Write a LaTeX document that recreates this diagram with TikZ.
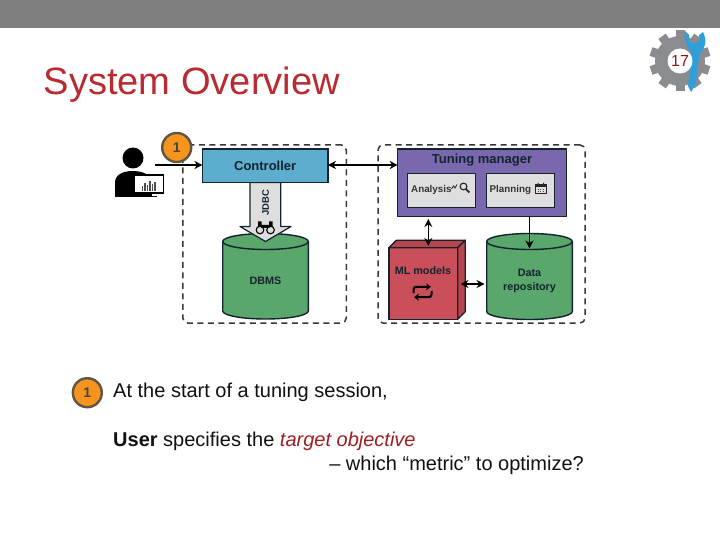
\documentclass[tikz,border=0pt]{standalone}
\usepackage{fontspec}
\setmainfont{Liberation Sans}
\usetikzlibrary{arrows.meta,calc}
\definecolor{barc}{HTML}{7F7F7F}
\definecolor{titlec}{HTML}{B92B30}
\definecolor{ctrlc}{HTML}{5DAECE}
\definecolor{greenc}{HTML}{5AA76C}
\definecolor{purplec}{HTML}{7A68AE}
\definecolor{redc}{HTML}{C9505A}
\definecolor{redtop}{HTML}{B8444E}
\definecolor{orangec}{HTML}{F7941D}
\definecolor{ringc}{HTML}{5F5545}
\definecolor{inkc}{HTML}{14232E}
\definecolor{graybox}{HTML}{DEDEDE}
\definecolor{gearc}{HTML}{8A8C8F}
\definecolor{wrenchc}{HTML}{2E9FD8}
\definecolor{numc}{HTML}{8B1A1A}
\definecolor{objc}{HTML}{A01E22}
\definecolor{bodyc}{HTML}{111111}
\tikzset{
  box/.style={draw=inkc,line width=1.4pt,inner sep=0pt,outer sep=0pt,align=center,text=inkc,font=\bfseries},
  dashbox/.style={draw=black!78,line width=1.5pt,dash pattern=on 6pt off 4.5pt,rounded corners=5pt,inner sep=0pt,outer sep=0pt},
  conn/.style={line width=1.4pt,draw=black,-{Stealth[length=8pt,width=8pt]}},
  dconn/.style={line width=1.4pt,draw=black,{Stealth[length=8pt,width=8pt]}-{Stealth[length=8pt,width=8pt]}},
  badge/.style={circle,fill=orangec,draw=ringc,line width=2.4pt,minimum size=29pt,inner sep=0pt,font=\bfseries\fontsize{14}{14}\selectfont,text=ringc!80!black},
  bodytext/.style={anchor=base west,inner sep=0pt,text=bodyc,font=\fontsize{20}{20}\selectfont},
  cylbody/.style={inner sep=0pt,outer sep=0pt,align=center,text=inkc,font=\bfseries\fontsize{10.8}{14.5}\selectfont},
}
% name, centre x, top-ellipse y, bottom-ellipse y, label, label y
\newcommand{\cyldraw}[6]{%
  \draw[fill=greenc,draw=inkc,line width=1.4pt] (#2-42.8,#3) -- (#2-42.8,#4)
     arc[start angle=180,end angle=360,x radius=42.8pt,y radius=8pt] -- (#2+42.8,#3)
     arc[start angle=0,end angle=180,x radius=42.8pt,y radius=8pt] -- cycle;
  \draw[draw=inkc,line width=1.4pt] (#2-42.8,#3) arc[start angle=180,end angle=360,x radius=42.8pt,y radius=8pt];
  \node[cylbody] (#1) at (#2,#6) {#5};
}
\begin{document}
\begin{tikzpicture}[x=1pt,y=-1pt]
\useasboundingbox (0,0) rectangle (720,540);
\fill[white] (0,0) rectangle (720,540);
\fill[barc] (0,0) rectangle (720,28);

% gear and page number
\foreach \a in {0,36,...,324}{
  \fill[gearc,rotate around={\a:(680,61)}] (675.5,30.5) rectangle (684.5,42);
}
\fill[gearc] (680,61) circle[radius=25];
\fill[wrenchc] (685,31) -- (689,35) -- (689,41) -- (694,44) -- (699,41) -- (699,35) -- (703,32)
  .. controls (707,40) and (706,48) .. (700,53) -- (697,70) -- (696,84) -- (691,92) -- (688,86) -- (690,70) -- (691,52)
  .. controls (686,46) and (684,38) .. (685,31) -- cycle;
\node[circle,fill=white,minimum size=25pt,inner sep=0pt,text=numc,font=\fontsize{16}{16}\selectfont] (pg) at (680,61) {17};

% title
\node[anchor=base west,inner sep=0pt,text=titlec,font=\fontsize{38.1}{40}\selectfont] (title) at (43.5,95) {System Overview};

% dashed frames
\node[dashbox,minimum width=163.5pt,minimum height=178pt] (leftf) at (264.5,234) {};
\node[dashbox,minimum width=207pt,minimum height=178pt] (rightf) at (481.5,234) {};

% user
\fill[black] (133,158) circle[radius=10.5];
\fill[black] (115,197) -- (115,183) .. controls (115,175) and (122,171) .. (133,171) .. controls (140,171) and (146,173) .. (149,176) -- (149,197) -- cycle;
\node[draw=black,line width=1.8pt,fill=white,minimum width=29pt,minimum height=18pt,inner sep=0pt,outer sep=0pt] (user) at (149,184) {};
\foreach \x/\h in {142.5/5,145/8,147.5/6,150/10,152.5/7,155/9}{
  \draw[line width=1.7pt,black!70] (\x,191) -- (\x,191-\h);
}
\fill[black] (146,193) rectangle (152,196);
\fill[black] (141,196) rectangle (157,197.5);

% JDBC arrow + DBMS
\cyldraw{dbms}{265.5}{241.5}{311}{DBMS}{280.5}
\draw[fill=graybox,draw=inkc,line width=1.2pt,line join=round] (250,182.5) -- (250,226.5) -- (240,226.5) -- (265.5,241.5) -- (291,226.5) -- (280.7,226.5) -- (280.7,182.5) -- cycle;
\node[rotate=90,inner sep=0pt,text=inkc,font=\bfseries\fontsize{9.5}{10}\selectfont] (jdbc) at (265.5,202.5) {JDBC};
\draw[line width=1.1pt,black] (260,230) circle[radius=3.8] (270.5,230) circle[radius=3.8];
\fill[black] (258,221.5) rectangle (261.5,227) (269,221.5) rectangle (272.5,227) (261,225) rectangle (269.5,228);

% Controller
\node[box,fill=ctrlc,minimum width=125.5pt,minimum height=33.5pt,font=\bfseries\fontsize{13}{14}\selectfont] (ctrl) at (265.2,165.7) {Controller};

% Tuning manager
\node[box,fill=purplec,minimum width=169pt,minimum height=67.7pt] (tm) at (482.2,182.8) {};
\node[inner sep=0pt,text=inkc,font=\bfseries\fontsize{13}{14}\selectfont] (tmlabel) at (482,160.5) {\raisebox{-1.5pt}{Tuning manager}};
\node[box,fill=graybox,minimum width=68pt,minimum height=34pt] (an) at (441.3,190.3) {};
\node[box,fill=graybox,minimum width=67.6pt,minimum height=34pt] (pl) at (520.5,190.3) {};
\node[anchor=west,inner sep=0pt,text=black!80,font=\bfseries\fontsize{9.8}{11}\selectfont] (anl) at (411,190) {Analysis};
\node[anchor=west,inner sep=0pt,text=black!80,font=\bfseries\fontsize{9.8}{11}\selectfont] (pll) at (489.5,190) {Planning};
% analysis icon
\draw[line width=.9pt,black!80] (451.5,189) -- (453.5,186) -- (455,188) -- (457,184.5);
\draw[line width=1.1pt,black!85] (463.5,186.5) circle[radius=3.4];
\draw[line width=1.7pt,black!85] (465.8,188.8) -- (469.3,192.5);
% calendar icon
\draw[line width=1pt,black!85] (535.5,185) rectangle (546,193.5);
\fill[black!85] (535.5,185) rectangle (546,187.5);
\fill[black!85] (537.5,183) rectangle (538.7,185.5) (542.8,183) rectangle (544,185.5);
\foreach \x in {537.5,540,542.5}{\foreach \y in {189,191}{\fill[black!70] (\x,\y) rectangle +(1.4,1.2);}}

% ML models
\node[box,fill=redc,minimum width=68.7pt,minimum height=71.6pt] (ml) at (423.3,283.5) {};
\draw[fill=redtop,draw=inkc,line width=1.3pt,line join=round] (ml.north west) -- ++(7.5,-7.5) -- ++(68.7,0) -- (ml.north east) -- cycle;
\draw[fill=redtop,draw=inkc,line width=1.3pt,line join=round] (ml.north east) -- ++(7.5,-7.5) -- ++(0,71.6) -- (ml.south east) -- cycle;
\node[inner sep=0pt,text=inkc,font=\bfseries\fontsize{10.8}{12}\selectfont] (mll) at (423,271) {ML models};
\draw[line width=2pt,black,-{Stealth[length=5pt,width=7pt]}] (413.5,293) -- (413.5,289.5) .. controls (413.5,287.5) and (415,286.8) .. (417,286.8) -- (431,286.8);
\draw[line width=2pt,black,-{Stealth[length=5pt,width=7pt]}] (431.5,291) -- (431.5,294.5) .. controls (431.5,296.5) and (430,297.2) .. (428,297.2) -- (414,297.2);

% Data repository
\cyldraw{repo}{529.5}{241.5}{311.5}{Data\\repository}{281}

% connectors
\coordinate (uout) at (155,165);
\coordinate (repotop) at (repo.north |- 0,248.5);
\coordinate (mlabove) at (428.3,246);
\coordinate (tmbelow) at (428.3,219);
\coordinate (mlright) at (460.5,284);
\coordinate (repoleft) at (484.5,284);
\draw[conn] (uout) -- (ctrl.west |- uout);
\draw[dconn] (ctrl.east |- 0,165) -- (tm.west |- 0,165);
\draw[dconn] (tmbelow) -- (mlabove);
\draw[conn] (tm.south -| repotop) -- (repotop);
\draw[dconn] (mlright) -- (repoleft);

% badges
\node[badge] (b1) at (176.7,147.5) {1};
\node[badge] (b2) at (87.3,392.7) {1};

% body text
\node[bodytext] (l1) at (113,397) {At the start of a tuning session,};
\node[bodytext] (l2) at (113,446) {\textbf{User} specifies the \textcolor{objc}{\itshape target objective}};
\node[bodytext,anchor=base east] (l3) at (584,470) {– which “metric” to optimize?};
\end{tikzpicture}
\end{document}
